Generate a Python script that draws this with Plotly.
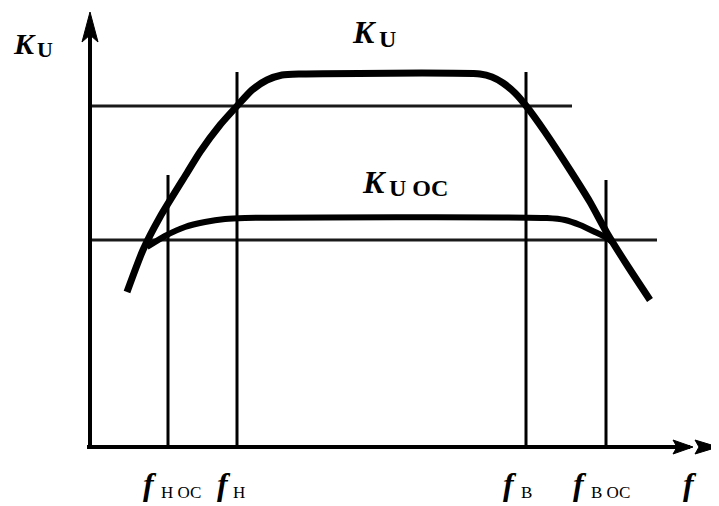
import plotly.graph_objects as go

# ---- data (abstract units: f along x, K along y, origin at axes crossing) ----
f_marks = [78, 147, 436, 516]              # f_н ос, f_н, f_в, f_в ос
f_names = ["Н ОС", "Н", "В", "В ОС"]
f_tops = [272, 375, 375, 267]              # heights of the marker lines

level_ku = 341                             # 0.707·K_U level
level_kuoc = 207                           # 0.707·K_U OC level
level_ends = [482, 567]

ku_f = [37, 53, 70, 97, 110, 130, 147, 162, 177, 192, 210, 390, 402, 413, 425, 437, 455, 480, 500, 517, 537, 560]
ku_k = [155, 197, 230, 274, 295, 322, 341, 357, 367, 372, 373, 373, 370, 364, 354, 340, 315, 277, 245, 214, 182, 147]

kuoc_f = [57, 75, 95, 115, 135, 155, 457, 475, 490, 505, 517, 522]
kuoc_k = [200, 211, 220, 225, 228, 229, 229, 227, 222, 215, 209, 205]

FONT = "Liberation Serif, Times New Roman, serif"
INK = "#000000"

fig = go.Figure()

# reference levels
fig.add_trace(go.Scatter(x=[0, level_ends[0]], y=[level_ku, level_ku], mode="lines",
                         line=dict(color="#1a1a1a", width=2.8), hoverinfo="skip"))
fig.add_trace(go.Scatter(x=[0, level_ends[1]], y=[level_kuoc, level_kuoc], mode="lines",
                         line=dict(color="#1a1a1a", width=2.8), hoverinfo="skip"))

# vertical frequency marker lines
for fm, top in zip(f_marks, f_tops):
    fig.add_trace(go.Scatter(x=[fm, fm], y=[0, top], mode="lines",
                             line=dict(color=INK, width=3), hoverinfo="skip"))

# curves
fig.add_trace(go.Scatter(x=ku_f, y=ku_k, mode="lines",
                         line=dict(color=INK, width=7, shape="spline", smoothing=0.6), hoverinfo="skip"))
fig.add_trace(go.Scatter(x=kuoc_f, y=kuoc_k, mode="lines",
                         line=dict(color=INK, width=6, shape="spline", smoothing=0.6), hoverinfo="skip"))

# axes with arrows
fig.add_shape(type="line", x0=0, y0=-2, x1=0, y1=420, line=dict(color=INK, width=4))
fig.add_shape(type="line", x0=-3, y0=0, x1=600, y1=0, line=dict(color=INK, width=4))
fig.add_shape(type="path", path="M 0 435 L 8 405 L 0 412 L -8 405 Z", fillcolor=INK, line=dict(color=INK, width=1))
fig.add_shape(type="path", path="M 603 0 L 583 7 L 587 0 L 583 -7 Z", fillcolor=INK, line=dict(color=INK, width=1))
fig.add_shape(type="path", path="M 628 0 L 605 7 L 609 0 L 605 -7 Z", fillcolor=INK, line=dict(color=INK, width=1))

ann = []


def add_text(x, y, text, size):
    ann.append(dict(x=x, y=y, text=text, xanchor="left", yanchor="middle", showarrow=False,
                    xref="x", yref="y", font=dict(family=FONT, color=INK, size=size)))


# K labels: main letter + subscript
add_text(-79, 404, "<b><i>K</i></b>", 30)
add_text(-55, 398, "<b>U</b>", 22)
add_text(260, 415, "<b><i>K</i></b>", 32)
add_text(287, 408, "<b>U</b>", 24)
add_text(270, 265, "<b><i>K</i></b>", 32)
add_text(297, 259, "<b>U OC</b>", 24)

# frequency labels
f_left = [51, 125, 411, 481]
sub_left = [69, 141, 429, 499]
for xl, xs, nm in zip(f_left, sub_left, f_names):
    add_text(xl, -37, "<b><i>f</i></b>", 32)
    add_text(xs, -45, nm, 17)
add_text(591, -37, "<b><i>f</i></b>", 32)

fig.update_layout(annotations=ann)

# the page body has an 8px margin, so the figure is sized/ranged to fill the window exactly
fig.update_layout(
    width=711, height=498, margin=dict(l=0, r=0, t=0, b=0),
    paper_bgcolor="white", plot_bgcolor="white", showlegend=False,
    xaxis=dict(range=[-82, 629], visible=False, fixedrange=True),
    yaxis=dict(range=[-59, 439], visible=False, fixedrange=True),
)

fig.write_html("out.html")
